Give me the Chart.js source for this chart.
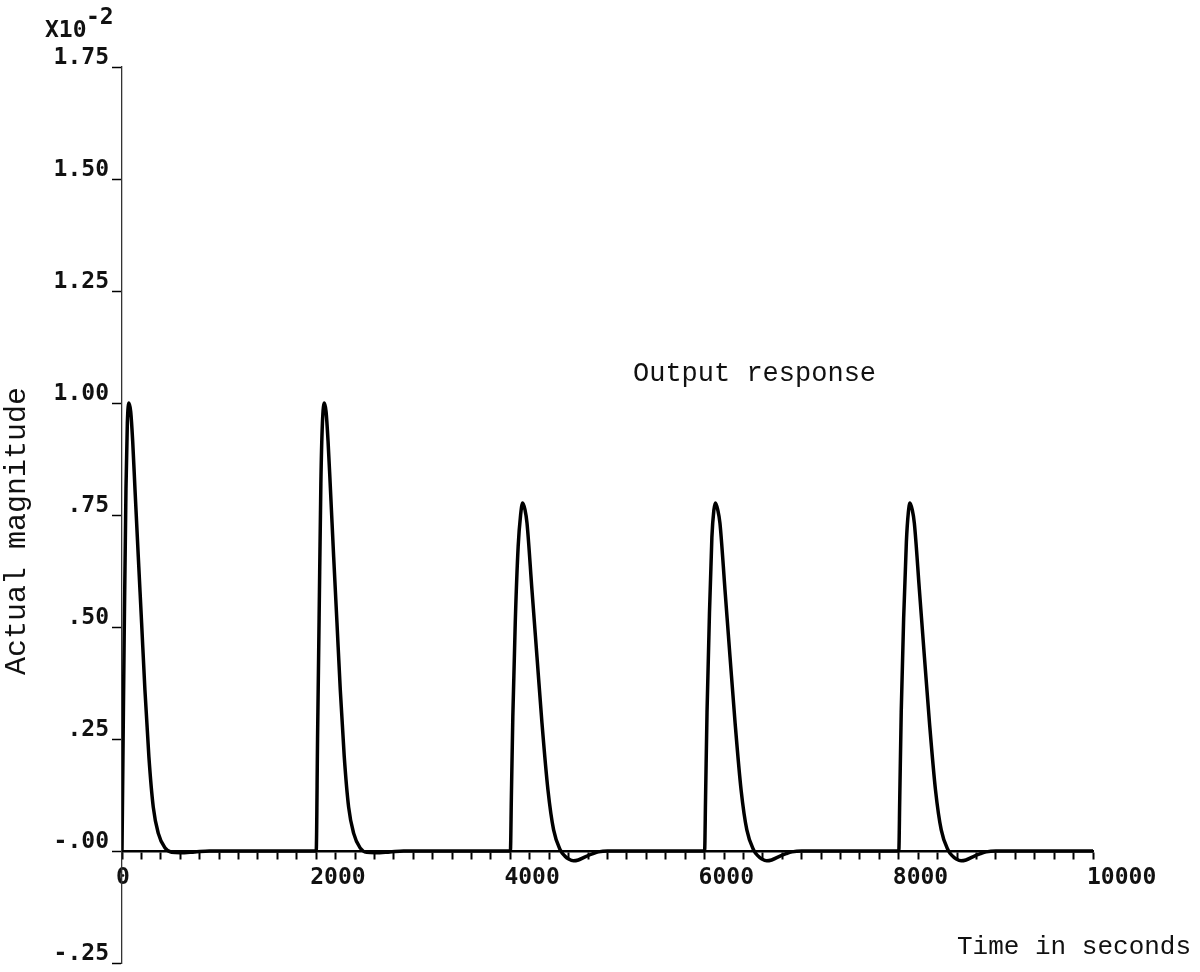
<!DOCTYPE html>
<html>
<head>
<meta charset="utf-8">
<title>Output response</title>
<script src="https://cdn.jsdelivr.net/npm/chart.js@4.4.0/dist/chart.umd.min.js"></script>
<style>
  html, body { margin: 0; padding: 0; background: #fff; }
  #chart { display: block; }
</style>
</head>
<body>
<canvas id="chart" width="1200" height="972"></canvas>
<script>
"use strict";

// time in seconds (five pulses, 2000 s apart)
var timeSeconds = [
    0, 12, 24, 41, 55, 72, 90, 110, 134, 168, 202, 236, 277, 322, 373, 442, 511, 600, 750, 900,
    2000, 2014, 2030, 2048, 2064, 2085, 2102, 2122, 2147, 2180, 2214, 2248, 2289, 2334, 2385, 2452, 2520, 2610, 2760, 2900,
    4000, 4010, 4025, 4050, 4080, 4105, 4126, 4150, 4171, 4222, 4274, 4325, 4387, 4445, 4514, 4560, 4600, 4650, 4700, 4770, 4850, 4907, 5000,
    6000, 6010, 6025, 6050, 6075, 6095, 6112, 6135, 6158, 6210, 6262, 6314, 6376, 6435, 6505, 6550, 6590, 6640, 6690, 6760, 6840, 6900, 7000,
    8000, 8010, 8025, 8050, 8078, 8098, 8115, 8138, 8160, 8212, 8264, 8316, 8378, 8437, 8507, 8552, 8592, 8642, 8692, 8762, 8842, 8900, 9000,
    10000
];

// actual magnitude, units of 1e-2
var outputResponse = [
    0, 0.26, 0.51, 0.81, 0.955, 1.0, 0.98, 0.915, 0.806, 0.656, 0.509, 0.36, 0.21, 0.098, 0.04, 0.007, -0.003, -0.004, -0.002, 0,
    0, 0.25, 0.52, 0.82, 0.955, 1.0, 0.98, 0.915, 0.806, 0.656, 0.509, 0.36, 0.21, 0.098, 0.04, 0.007, -0.003, -0.004, -0.002, 0,
    0, 0.12, 0.30, 0.51, 0.68, 0.75, 0.777, 0.762, 0.732, 0.583, 0.433, 0.286, 0.136, 0.047, 0.002, -0.011, -0.018, -0.022, -0.02, -0.013, -0.006, -0.002, 0,
    0, 0.12, 0.31, 0.53, 0.70, 0.76, 0.777, 0.762, 0.732, 0.583, 0.433, 0.286, 0.136, 0.047, 0.002, -0.011, -0.018, -0.022, -0.02, -0.013, -0.006, -0.002, 0,
    0, 0.12, 0.31, 0.52, 0.69, 0.755, 0.777, 0.762, 0.732, 0.583, 0.433, 0.286, 0.136, 0.047, 0.002, -0.011, -0.018, -0.022, -0.02, -0.013, -0.006, -0.002, 0,
    0
];

var xMin = 0;
var xMax = 10000;
var xTickStep = 200;
var xLabelStep = 2000;

var yTickValues = [-0.25, 0, 0.25, 0.5, 0.75, 1, 1.25, 1.5, 1.75];
var yTickLabels = ['-.25', '-.00', '.25', '.50', '.75', '1.00', '1.25', '1.50', '1.75'];

var PLOT_FONT = '"DejaVu Sans Mono", monospace';
var TYPE_FONT = '"Liberation Mono", "Courier New", monospace';

function yLabelFor(value) {
    for (var i = 0; i < yTickValues.length; i++) {
        if (Math.abs(yTickValues[i] - value) < 1e-6) {
            return yTickLabels[i];
        }
    }
    return '';
}

// free text of the plot: exponent, axis titles, curve label
var plotText = {
    id: 'plotText',
    afterDraw: function (chart) {
        var ctx = chart.ctx;
        ctx.save();
        ctx.fillStyle = '#111';
        ctx.textBaseline = 'alphabetic';
        ctx.textAlign = 'left';

        ctx.font = 'bold 23px ' + PLOT_FONT;
        ctx.fillText('X10', 45, 37);
        ctx.fillText('-2', 86, 24);

        ctx.font = '27px ' + TYPE_FONT;
        ctx.fillText('Output response', 633, 381);

        ctx.font = '26px ' + TYPE_FONT;
        ctx.fillText('Time in seconds', 957, 954);

        ctx.translate(25, 531);
        ctx.rotate(-Math.PI / 2);
        ctx.textAlign = 'center';
        ctx.font = '30px ' + TYPE_FONT;
        ctx.fillText('Actual magnitude', 0, 0);
        ctx.restore();
    }
};

var points = timeSeconds.map(function (t, i) {
    return {x: t, y: outputResponse[i]};
});

var ctx = document.getElementById('chart');
var chart = new Chart(ctx, {
    type: 'line',
    data: {
        datasets: [{
            label: 'Output response',
            data: points,
            borderColor: '#000',
            borderWidth: 3.5,
            pointRadius: 0,
            fill: false,
            cubicInterpolationMode: 'monotone',
            borderJoinStyle: 'round',
            borderCapStyle: 'round'
        }]
    },
    options: {
        responsive: false,
        animation: false,
        events: [],
        layout: {
            padding: {left: 0, top: 67, right: 107, bottom: 9}
        },
        plugins: {
            legend: {display: false},
            title: {display: false},
            tooltip: {enabled: false}
        },
        scales: {
            x: {
                type: 'linear',
                position: {y: 0},
                min: xMin,
                max: xMax,
                grid: {
                    drawOnChartArea: false,
                    drawTicks: true,
                    tickLength: 7,
                    tickWidth: 2,
                    tickColor: '#000'
                },
                border: {display: true, color: '#000', width: 2.5},
                ticks: {
                    stepSize: xTickStep,
                    autoSkip: false,
                    maxRotation: 0,
                    minRotation: 0,
                    align: 'start',
                    labelOffset: -6,
                    padding: 6,
                    color: '#111',
                    font: {family: PLOT_FONT, size: 23, weight: 'bold'},
                    callback: function (value) {
                        return value % xLabelStep === 0 ? String(value) : '';
                    }
                },
                afterFit: function (scale) {
                    scale.paddingLeft = 0;
                    scale.paddingRight = 0;
                }
            },
            y: {
                type: 'linear',
                position: 'left',
                min: -0.25,
                max: 1.75,
                grid: {
                    drawOnChartArea: false,
                    drawTicks: true,
                    tickLength: 10,
                    tickWidth: 1.5,
                    tickColor: '#000'
                },
                border: {display: true, color: '#333', width: 1.3},
                ticks: {
                    stepSize: 0.25,
                    padding: 3,
                    labelOffset: -9,
                    color: '#111',
                    font: {family: PLOT_FONT, size: 23, weight: 'bold'},
                    callback: function (value) {
                        return yLabelFor(value);
                    }
                },
                afterFit: function (scale) {
                    scale.width = 122;
                    scale.paddingTop = 0;
                    scale.paddingBottom = 0;
                }
            }
        }
    },
    plugins: [plotText]
});
</script>
</body>
</html>
